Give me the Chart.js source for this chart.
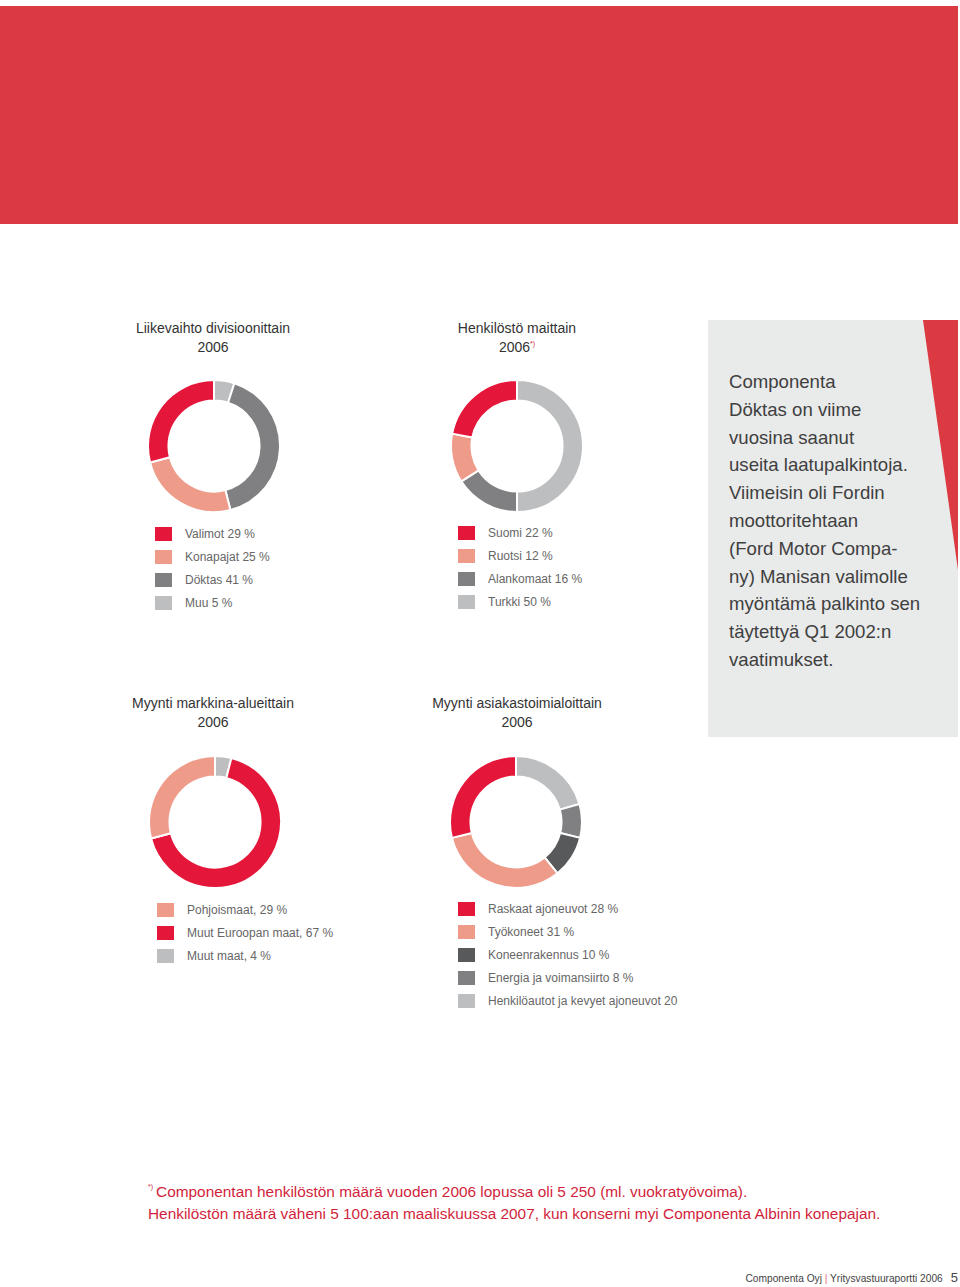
<!DOCTYPE html>
<html lang="fi">
<head>
<meta charset="utf-8">
<script src="https://cdn.jsdelivr.net/npm/chart.js@4/dist/chart.umd.min.js"></script>
<style>
  html, body { margin: 0; padding: 0; }
  body {
    width: 960px; height: 1287px; position: relative; overflow: hidden;
    background: #fff; font-family: "Liberation Sans", Arial, sans-serif;
  }
  .band { position: absolute; left: 0; top: 6px; width: 958px; height: 218px; background: #dc3a42; }
  .title { position: absolute; width: 260px; text-align: center; font-size: 14px; line-height: 19px; color: #333; }
  .title sup { font-size: 7px; color: #d21f3c; line-height: 0; vertical-align: 6px; }
  .donut { position: absolute; width: 134px; height: 134px; }
  .legend { position: absolute; font-size: 12px; color: #666; }
  .legend div { height: 23px; position: relative; padding-left: 30px; line-height: 14px; white-space: nowrap; }
  .legend span.sw { position: absolute; left: 0; top: 0; width: 17px; height: 14px; }
  .box { position: absolute; left: 708px; top: 320px; width: 250px; height: 417px; background: #e9eaea; }
  .box svg { position: absolute; left: 0; top: 0; }
  .box p { position: absolute; left: 21px; top: 48px; margin: 0; font-size: 18.6px; line-height: 27.8px; color: #3f3f3f; }
  .note { position: absolute; left: 148px; top: 1181px; font-size: 15.4px; line-height: 22px; color: #d21f3c; }
  .note sup { font-size: 7px; line-height: 0; vertical-align: 8px; margin-right: 3px; }
  .foot { position: absolute; right: 2px; top: 1270px; font-size: 10.2px; color: #444; }
  .foot .bar { color: #e0707a; }
  .foot .pg { font-size: 13px; margin-left: 8px; }
</style>
</head>
<body>
<div class="band"></div>

<div class="title" style="left:83px; top:319px;">Liikevaihto divisioonittain<br>2006</div>
<div class="title" style="left:387px; top:319px;">Henkilöstö maittain<br>2006<sup>*)</sup></div>
<div class="title" style="left:83px; top:694px;">Myynti markkina-alueittain<br>2006</div>
<div class="title" style="left:387px; top:694px;">Myynti asiakastoimialoittain<br>2006</div>

<div class="donut" style="left:147px; top:379px;"><canvas id="c1" width="134" height="134"></canvas></div>
<div class="donut" style="left:450px; top:379px;"><canvas id="c2" width="134" height="134"></canvas></div>
<div class="donut" style="left:148px; top:755px;"><canvas id="c3" width="134" height="134"></canvas></div>
<div class="donut" style="left:449px; top:755px;"><canvas id="c4" width="134" height="134"></canvas></div>

<div class="legend" id="l1" style="left:155px; top:527px;"></div>
<div class="legend" id="l2" style="left:458px; top:526px;"></div>
<div class="legend" id="l3" style="left:157px; top:903px;"></div>
<div class="legend" id="l4" style="left:458px; top:902px;"></div>

<div class="box">
  <svg width="250" height="417"><polygon points="215,0 250,0 250,250" fill="#dc3a42"/></svg>
  <p>Componenta<br>Döktas on viime<br>vuosina saanut<br>useita laatupalkintoja.<br>Viimeisin oli Fordin<br>moottoritehtaan<br>(Ford Motor Compa-<br>ny) Manisan valimolle<br>myöntämä palkinto sen<br>täytettyä Q1 2002:n<br>vaatimukset.</p>
</div>

<div class="note"><sup>*)</sup>Componentan henkilöstön määrä vuoden 2006 lopussa oli 5 250 (ml. vuokratyövoima).<br>Henkilöstön määrä väheni 5 100:aan maaliskuussa 2007, kun konserni myi Componenta Albinin konepajan.</div>

<div class="foot">Componenta Oyj <span class="bar">|</span> Yritysvastuuraportti 2006<span class="pg">5</span></div>

<script>
const RED = "#e4173a";
const SALMON = "#ee9b8a";
const GRAY = "#808082";
const LIGHT = "#bdbec0";
const DARK = "#58595b";

// Liikevaihto divisioonittain
const divisionLabels = ["Valimot 29 %", "Konapajat 25 %", "Döktas 41 %", "Muu 5 %"];
const divisionValues = [29, 25, 41, 5];
const divisionColors = [RED, SALMON, GRAY, LIGHT];

// Henkilöstö maittain
const countryLabels = ["Suomi 22 %", "Ruotsi 12 %", "Alankomaat 16 %", "Turkki 50 %"];
const countryValues = [22, 12, 16, 50];
const countryColors = [RED, SALMON, GRAY, LIGHT];

// Myynti markkina-alueittain
const marketLabels = ["Pohjoismaat, 29 %", "Muut Euroopan maat, 67 %", "Muut maat, 4 %"];
const marketValues = [29, 67, 4];
const marketColors = [SALMON, RED, LIGHT];

// Myynti asiakastoimialoittain
const industryLabels = ["Raskaat ajoneuvot 28 %", "Työkoneet 31 %", "Koneenrakennus 10 %",
  "Energia ja voimansiirto 8 %", "Henkilöautot ja kevyet ajoneuvot 20"];
const industryValues = [28, 31, 10, 8, 20];
const industryColors = [RED, SALMON, DARK, GRAY, LIGHT];

function makeLegend(id, labels, colors) {
  const el = document.getElementById(id);
  labels.forEach((label, i) => {
    const row = document.createElement("div");
    row.innerHTML = `<span class="sw" style="background:${colors[i]}"></span>${label}`;
    el.appendChild(row);
  });
}

function makeDonut(id, labels, values, colors) {
  // slices go clockwise from the top in the reverse of the legend order
  const ctx = document.getElementById(id).getContext("2d");
  return new Chart(ctx, {
    type: "doughnut",
    data: {
      labels: labels.slice().reverse(),
      datasets: [{
        data: values.slice().reverse(),
        backgroundColor: colors.slice().reverse(),
        borderColor: "#fff",
        borderWidth: 2
      }]
    },
    options: {
      responsive: false,
      animation: false,
      cutout: "69%",
      layout: { padding: 0 },
      plugins: { legend: { display: false }, tooltip: { enabled: false } }
    }
  });
}

makeDonut("c1", divisionLabels, divisionValues, divisionColors);
makeDonut("c2", countryLabels, countryValues, countryColors);
makeDonut("c3", marketLabels, marketValues, marketColors);
makeDonut("c4", industryLabels, industryValues, industryColors);

makeLegend("l1", divisionLabels, divisionColors);
makeLegend("l2", countryLabels, countryColors);
makeLegend("l3", marketLabels, marketColors);
makeLegend("l4", industryLabels, industryColors);
</script>
</body>
</html>
